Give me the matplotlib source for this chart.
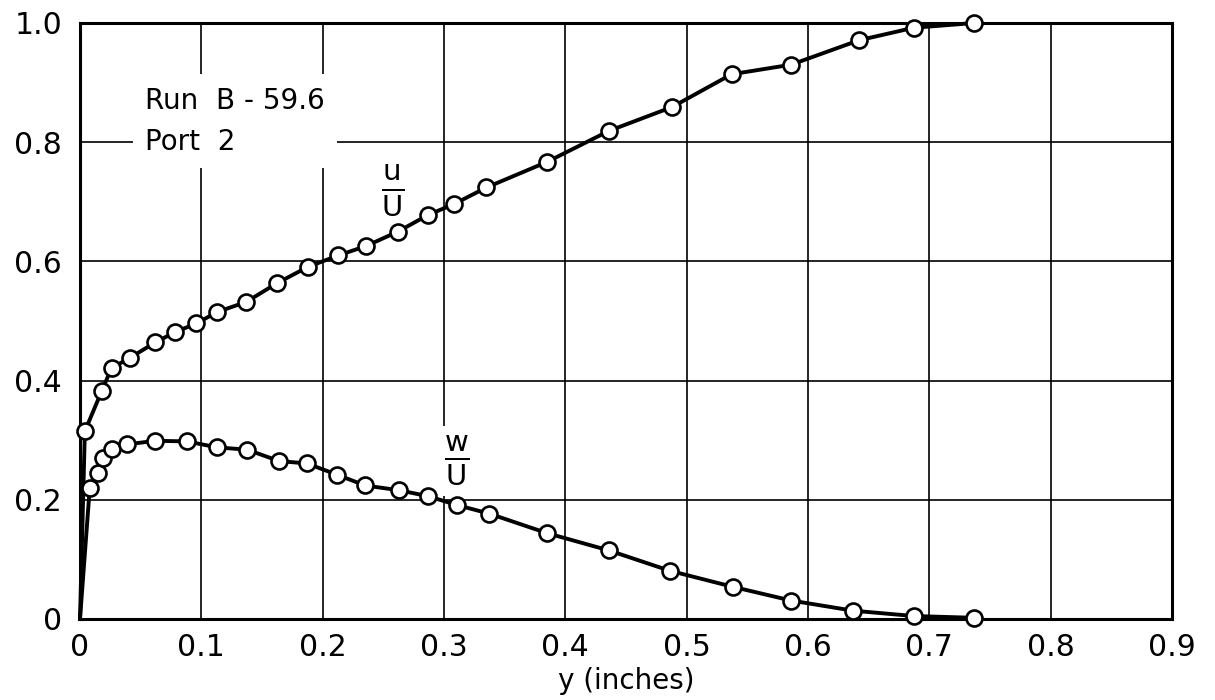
import matplotlib.pyplot as plt

# distance from wall (inches) and velocity ratios
y_u = [0.004, 0.018, 0.026, 0.041, 0.062, 0.078, 0.096, 0.113, 0.137, 0.162,
       0.188, 0.213, 0.236, 0.262, 0.287, 0.308, 0.335, 0.385, 0.436, 0.488,
       0.537, 0.586, 0.642, 0.687, 0.737]
u_U = [0.315, 0.383, 0.421, 0.438, 0.464, 0.481, 0.496, 0.515, 0.532, 0.563,
       0.591, 0.610, 0.626, 0.650, 0.678, 0.696, 0.724, 0.767, 0.819, 0.859,
       0.914, 0.930, 0.971, 0.992, 1.000]

y_w = [0.008, 0.015, 0.019, 0.026, 0.039, 0.062, 0.088, 0.113, 0.138, 0.164,
       0.187, 0.212, 0.235, 0.263, 0.287, 0.311, 0.337, 0.385, 0.436, 0.486,
       0.538, 0.586, 0.637, 0.687, 0.737]
w_U = [0.219, 0.245, 0.270, 0.285, 0.293, 0.299, 0.298, 0.288, 0.284, 0.265,
       0.261, 0.242, 0.224, 0.216, 0.206, 0.191, 0.177, 0.144, 0.115, 0.081,
       0.054, 0.031, 0.014, 0.005, 0.002]

x_ticks = [0, 0.1, 0.2, 0.3, 0.4, 0.5, 0.6, 0.7, 0.8, 0.9]
x_labels = ["0", "0.1", "0.2", "0.3", "0.4", "0.5", "0.6", "0.7", "0.8", "0.9"]
y_ticks = [0, 0.2, 0.4, 0.6, 0.8, 1.0]
y_labels = ["0", "0.2", "0.4", "0.6", "0.8", "1.0"]

plt.rcParams["font.family"] = "DejaVu Sans"
plt.rcParams["mathtext.fontset"] = "dejavusans"

fig = plt.figure(figsize=(12.15, 7.0), dpi=100)
ax = fig.add_axes([80 / 1215, 81 / 700, 1092 / 1215, 596 / 700])

# both profiles start at the wall (0, 0); no marker there
for xs, vals in [(y_u, u_U), (y_w, w_U)]:
    ax.plot([0] + xs, [0] + vals, color="black", lw=2.8,
            marker="o", markevery=list(range(1, len(xs) + 1)),
            ms=11.5, mfc="white", mec="black", mew=1.9,
            clip_on=False, zorder=5)

ax.set_xlim(0, 0.9)
ax.set_ylim(0, 1.0)
ax.set_xticks(x_ticks)
ax.set_xticklabels(x_labels)
ax.set_yticks(y_ticks)
ax.set_yticklabels(y_labels)
ax.tick_params(length=0, labelsize=21.5)
ax.tick_params(axis="x", pad=10)
ax.tick_params(axis="y", pad=13)
ax.grid(True, color="black", lw=1.2)
for s in ax.spines.values():
    s.set_linewidth(2.2)
ax.set_xlabel("y (inches)", fontsize=20, labelpad=4)

ax.text(0.0536, 0.787, "Run  B - 59.6\nPort  2", fontsize=20, va="baseline",
        linespacing=1.6, zorder=3,
        bbox=dict(boxstyle="square,pad=0.45", fc="white", ec="none"))

ax.text(0.2575, 0.72, r"$\frac{\mathrm{u}}{\mathrm{U}}$", fontsize=30,
        ha="center", va="center", zorder=3)
ax.text(0.3105, 0.265, r"$\frac{\mathrm{w}}{\mathrm{U}}$", fontsize=30,
        ha="center", va="center", zorder=3,
        bbox=dict(boxstyle="square,pad=0.2", fc="white", ec="none"))

plt.savefig("out.png", dpi=100)
